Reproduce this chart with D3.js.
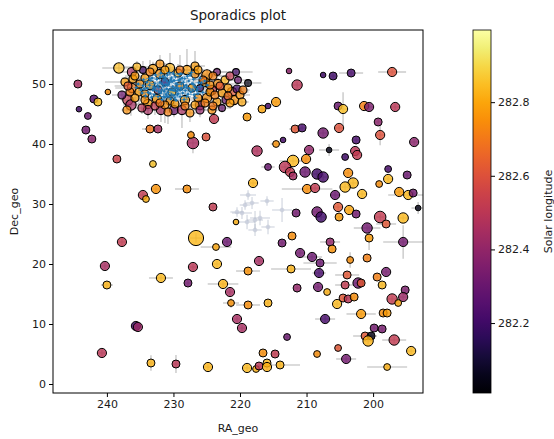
<!DOCTYPE html>
<html>
<head>
<meta charset="utf-8">
<script src="https://cdn.jsdelivr.net/npm/d3@7"></script>
<style>
body { margin: 0; background: #fff; }
text { font-family: "DejaVu Sans", sans-serif; fill: #1a1a1a; }
</style>
</head>
<body>
<svg id="chart" width="554" height="439"></svg>
<script>
// tick labels
const xTicks = [240, 230, 220, 210, 200];
const yTicks = [0, 10, 20, 30, 40, 50];
const solTicks = [282.2, 282.4, 282.6, 282.8];

// sporadic meteors: RA_geo, Dec_geo, solar longitude, brightness, sigma RA, sigma Dec
const sporadics = [
  [244.36,50.0,282.45,2,0.6,0.5],[239.85,48.67,282.75,1,0.5,0.4],[241.96,47.5,282.25,2,0.5,0.4],
  [241.35,47.0,282.85,2,0.6,0.5],[244.2,45.8,282.2,1,0.4,0.4],[242.86,44.67,282.3,1.5,0.5,0.4],
  [243.16,42.33,282.32,2,0.5,0.5],[242.26,40.83,282.38,2,0.6,0.4],[238.5,37.5,282.55,2,0.5,0.5],
  [233.08,36.67,282.86,1.5,0.5,0.4],[233.53,42.5,282.7,2,1.2,0.5],[232.33,42.5,282.45,2,0.6,0.5],
  [227.07,40.17,282.45,3.5,0.8,1.7],[227.37,41.5,282.75,1.5,0.5,0.8],[225.1,41.17,282.6,2,0.6,0.5],
  [223.9,44.17,282.52,2.5,0.6,0.6],[218.94,44.5,282.78,2,0.5,0.5],[217.44,38.83,282.47,3,0.6,0.5],
  [216.69,45.83,282.8,2,0.6,0.5],[215.79,46.33,282.22,1,0.5,0.4],[214.58,47.0,282.78,2.5,0.6,0.5],
  [212.63,52.17,282.38,1,0.4,0.4],[207.51,51.5,282.2,1,0.4,0.4],[206.01,51.33,282.2,2,0.5,0.4],
  [203.3,51.83,282.22,2,1.8,0.4],[197.14,52.0,282.6,2.5,2.1,0.4],[211.42,49.83,282.5,3,0.6,0.5],
  [205.26,46.33,282.3,2,0.6,0.5],[204.51,45.83,282.85,2.5,0.6,2.8],[201.35,46.33,282.72,2.5,0.6,0.5],
  [200.6,46.17,282.35,2.5,0.6,0.5],[196.68,46.17,282.5,2.5,0.6,0.5],[199.24,43.67,282.38,2,0.5,0.5],
  [211.72,42.5,282.62,2,0.9,0.5],[210.67,42.67,282.22,2,0.5,0.4],[207.51,41.83,282.32,3,0.6,0.5],
  [205.11,42.67,282.6,2.5,0.6,0.5],[198.94,41.5,282.6,2.5,0.5,1.7],[193.83,40.33,282.38,2.5,0.6,0.5],
  [213.53,40.67,282.22,1,0.4,0.4],[214.58,40.0,282.76,1.5,0.8,0.4],[202.55,40.67,282.22,2,0.5,0.5],
  [209.62,39.0,282.4,2.5,0.6,0.5],[206.61,39.0,282.05,1,1.5,1.0],[204.2,37.83,282.2,1.5,0.5,0.4],
  [202.7,38.83,282.5,2.5,0.6,0.5],[202.4,38.17,282.52,2.5,0.5,0.5],[212.03,37.17,282.84,3.5,2.0,0.6],
  [210.07,37.5,282.75,2.5,0.6,0.5],[215.79,36.17,282.3,1.5,1.0,0.5],[213.23,36.17,282.5,3.5,0.6,0.5],
  [212.48,35.33,282.52,2.5,0.6,0.5],[212.03,34.67,282.45,2,0.5,0.5],[210.22,35.33,282.3,3,0.6,0.8],
  [208.42,35.0,282.2,3,0.6,0.5],[207.51,34.5,282.22,3,0.6,0.5],[203.75,35.17,282.75,2.5,0.6,0.5],
  [197.74,35.83,282.22,1.5,0.5,0.4],[194.88,34.83,282.3,2,0.6,0.5],[197.74,34.17,282.84,2.5,0.6,0.5],
  [203.0,33.5,282.84,3,0.8,0.6],[204.2,32.83,282.84,3,0.6,0.5],[199.09,33.33,282.75,1.5,0.5,0.4],
  [218.04,33.5,282.83,2.5,0.6,0.5],[209.92,32.5,282.75,2.5,3.8,0.5],[208.72,32.67,282.52,2.5,0.6,0.5],
  [201.65,31.67,282.84,2.5,0.6,0.5],[196.08,32.0,282.78,2.5,0.6,0.5],[194.73,31.5,282.84,2.5,3.0,0.5],
  [193.98,31.83,282.32,2,0.5,0.5],[205.71,31.5,282.3,2.5,0.6,0.5],[193.23,29.33,282.05,1,1.0,1.0],
  [211.57,28.5,282.32,2,0.5,0.5],[208.42,28.67,282.32,3,0.6,0.5],[207.81,27.83,282.2,3,0.6,0.5],
  [205.26,29.5,282.62,2.5,0.6,0.5],[205.11,27.83,282.78,2,0.5,0.5],[203.6,29.0,282.8,2.5,0.6,0.5],
  [202.55,28.33,282.32,2,0.5,0.5],[198.94,27.83,282.52,3.5,0.6,0.5],[198.04,26.67,282.62,2,1.5,0.4],
  [195.48,27.67,282.84,3,0.6,0.5],[212.18,24.67,282.75,2,0.5,0.5],[200.9,26.0,282.32,3,2.0,0.5],
  [200.6,24.33,282.78,2,0.5,2.0],[206.46,23.67,282.4,2,1.5,0.5],[206.16,22.5,282.76,2,0.5,0.5],
  [195.48,23.67,282.32,2.5,3.0,2.8],[213.68,23.5,282.32,2,0.5,0.5],[210.97,21.83,282.32,2.5,0.5,0.6],
  [209.17,21.17,282.3,2.5,1.5,0.5],[207.97,20.17,282.3,2,2.5,0.8],[203.45,20.67,282.75,1.5,0.5,1.3],
  [200.9,21.0,282.72,2,0.5,0.5],[212.33,19.17,282.83,2,3.0,0.5],[208.12,18.5,282.22,2.5,1.0,0.8],
  [203.9,18.17,282.62,2,1.8,0.5],[199.39,17.83,282.72,2,0.5,0.5],[198.04,18.67,282.33,2.5,0.5,0.5],
  [202.25,16.83,282.3,3,0.6,0.5],[201.8,16.83,282.62,2,0.6,0.5],[198.64,16.5,282.84,2,0.5,0.5],
  [211.42,16.0,282.4,2,0.5,0.8],[208.27,16.17,282.32,2.5,0.5,0.5],[206.91,15.33,282.82,1.5,0.5,0.5],
  [204.2,16.5,282.52,2,1.5,0.5],[195.18,15.67,282.35,2,0.5,0.5],[195.48,14.5,282.42,2.5,0.5,0.5],
  [197.14,14.17,282.52,3,0.6,0.5],[196.23,13.5,282.8,1.5,0.5,0.5],[204.51,14.33,282.62,2,0.5,0.5],
  [203.75,14.17,282.5,2,0.5,0.5],[202.85,14.5,282.75,2,0.5,0.5],[205.41,13.33,282.84,2.5,0.5,0.5],
  [201.8,11.67,282.78,2.5,2.2,0.5],[198.49,11.83,282.75,2,0.5,0.5],[197.89,11.83,282.78,2,0.5,0.5],
  [207.21,10.83,282.22,2.5,1.5,0.5],[212.93,7.83,282.3,1.5,0.5,0.5],[199.84,9.33,282.32,2,0.5,0.5],
  [198.64,9.17,282.33,2,0.5,0.5],[201.2,8.0,282.62,2,1.8,0.5],[200.3,8.0,282.05,2,0.5,0.5],
  [200.75,7.17,282.83,3,0.6,0.5],[196.83,7.33,282.52,3,1.8,0.5],[205.26,6.0,282.62,1.5,0.5,0.5],
  [208.42,5.0,282.75,1.5,0.5,0.5],[194.28,5.5,282.84,2.5,0.5,0.5],[204.05,4.17,282.32,2.5,1.5,0.5],
  [213.98,3.17,282.83,2,3.0,0.5],[197.89,2.83,282.82,1.5,3.0,0.4],[240.75,5.17,282.5,2.5,0.5,0.5],
  [233.38,3.5,282.83,2,0.5,1.3],[229.62,3.33,282.5,2,0.5,1.5],[224.81,2.83,282.83,2.5,0.5,0.5],
  [218.94,2.67,282.84,2.5,0.5,0.5],[217.59,2.5,282.82,1.5,0.5,0.5],[217.14,3.0,282.5,2,0.5,0.5],
  [215.94,3.5,282.84,2,0.5,0.5],[215.94,2.83,282.82,2.5,0.5,0.5],[216.54,5.17,282.75,2,0.5,0.5],
  [214.73,5.0,282.52,2,0.5,0.5],[227.82,16.83,282.32,2,0.5,0.5],[222.55,16.67,282.83,2.5,2.3,0.5],
  [221.5,15.33,282.45,2.5,0.5,0.5],[221.35,13.5,282.76,1.5,1.2,0.8],[218.79,13.17,282.75,2,1.8,0.5],
  [215.79,13.5,282.83,2,0.5,0.5],[220.45,10.83,282.45,2.5,0.5,0.5],[219.7,9.33,282.45,2.5,0.5,0.5],
  [234.59,31.5,282.52,2.5,0.5,0.5],[234.13,30.83,282.82,1.5,0.5,0.5],[232.63,32.5,282.76,2.5,0.5,0.5],
  [227.97,32.5,282.75,2,1.8,0.5],[237.74,23.67,282.52,2.5,0.5,0.8],[240.3,19.67,282.45,2.5,0.5,0.5],
  [231.88,17.67,282.84,2.5,1.8,0.5],[240.0,16.5,282.83,2,0.9,0.5],[235.64,9.67,282.2,2.5,0.5,0.5],
  [235.34,9.5,282.42,2.5,0.5,0.5],[224.06,29.5,282.52,2,0.5,0.5],[220.6,27.0,282.82,1,0.5,0.5],
  [226.61,24.33,282.84,5,1.0,0.8],[221.95,23.67,282.3,2.5,0.5,0.5],[223.61,22.83,282.8,1.5,2.3,0.5],
  [217.14,20.5,282.45,2.5,0.5,0.5],[223.46,20.0,282.84,2.5,0.5,0.5],[227.07,19.5,282.5,2.5,0.5,0.5],
  [218.79,18.83,282.76,2,1.8,0.5]
];

// sporadics crowding round the shower radiant
const radiantArea = [
  [238.2,52.67,282.84,3,2.5,0.8],[236.24,52.0,282.45,2.5,1.5,0.6],[234.59,52.33,282.2,1.5,1.0,1.5],
  [233.08,52.5,282.78,2.5,1.8,1.2],[230.52,52.67,282.83,2.5,1.5,2.5],[227.97,52.33,282.78,2.5,1.2,3.5],
  [224.96,51.5,282.75,3,2.0,1.0],[223.46,52.0,282.32,1.5,1.5,0.8],[220.6,52.0,282.2,1.5,2.5,0.6],
  [218.79,50.17,282.05,1.5,2.0,0.5],[223.31,50.0,282.75,2.5,2.5,1.0],[237.29,50.33,282.78,2,3.0,0.8],
  [236.09,50.83,282.78,2,1.5,0.8],[236.24,49.33,282.7,2.5,2.5,1.5],[235.19,48.67,282.78,2,1.5,2.0],
  [236.84,47.33,282.52,3,1.0,1.0],[236.39,46.5,282.45,3,1.2,1.8],[236.99,45.67,282.75,2,0.8,0.8],
  [233.83,46.67,282.78,2.5,2.0,2.5],[233.83,45.67,282.45,2.5,1.0,1.0],[231.88,45.67,282.45,2.5,1.5,2.0],
  [229.92,45.67,282.3,2.5,1.0,1.2],[228.72,45.67,282.45,2.5,1.2,3.0],[227.52,45.17,282.75,2,1.0,1.5],
  [226.01,46.5,282.45,2.5,1.5,1.0],[224.96,47.67,282.75,2.5,1.2,0.8],[224.21,49.0,282.52,2.5,3.0,0.8],
  [223.46,47.0,282.78,2,1.0,1.0],[222.1,47.33,282.3,2,1.5,0.6],[221.2,48.67,282.62,2.5,2.5,1.0],
  [220.9,47.33,282.75,2.5,1.0,0.8],[220.45,49.17,282.2,2,1.5,0.6],[234.28,51.0,282.78,2,3.5,1.0],
  [232.03,51.67,282.75,2.5,2.0,2.0],[229.32,51.83,282.83,2,1.5,1.5],[226.76,51.67,282.75,2,2.5,1.0],
  [225.26,50.33,282.78,2.5,2.0,1.2],[224.51,48.67,282.78,2,1.5,1.0],[226.31,47.67,282.75,2,2.0,1.5],
  [228.27,47.33,282.78,2.5,1.5,2.0],[230.52,47.17,282.75,2,2.5,1.0],[232.48,47.5,282.78,2.5,2.0,1.5],
  [234.28,48.33,282.75,2,3.0,1.0],[233.53,49.83,282.78,2.5,2.5,1.5],[231.28,50.33,282.2,2,1.5,1.0],
  [229.02,49.67,282.75,2,2.0,1.0],[227.22,49.33,282.78,2,1.5,0.8],[230.22,48.67,282.83,2,1.0,1.0],
  [232.33,49.0,282.52,2,1.5,1.0],[226.01,49.33,282.2,1.5,1.0,0.8],[235.04,50.0,282.75,2,2.0,1.0],
  [222.25,50.67,282.83,2,1.5,0.8],[221.8,49.33,282.78,2,2.5,1.0],[237.74,48.17,282.3,2,1.5,0.8],
  [231.28,46.5,282.75,2,1.5,3.0],[232.78,46.33,282.52,2,1.0,1.5],[224.21,45.67,282.75,2,1.0,2.0],
  [222.7,46.0,282.3,1.5,1.0,0.8],[235.49,52.83,282.83,2,2.0,1.0],[226.76,53.0,282.78,2,1.5,2.5],
  [232.03,53.33,282.75,2,1.0,1.5],[221.5,51.33,282.52,2,1.5,0.8],
  [225.56,50.67,282.7,2,1.5,0.8],[224.51,49.83,282.75,2,1.0,1.0],[223.76,48.17,282.72,2,2.0,0.6],
  [222.7,48.5,282.78,2,1.5,1.0],[221.8,48.0,282.7,2,1.0,0.8],[223.0,49.67,282.62,2,2.0,0.8],
  [220.0,48.17,282.75,2,1.5,0.6],[219.7,47.0,282.8,2,1.0,0.8],[225.26,46.83,282.72,2,1.0,1.2],
  [226.76,46.5,282.78,2,1.5,0.8],[228.27,46.33,282.72,2,1.0,1.5],[229.77,46.67,282.78,2,2.0,0.8],
  [232.03,46.83,282.7,2,1.5,1.0],[234.28,47.33,282.75,2,2.0,0.8],[235.79,47.67,282.78,2,1.0,1.2],
  [236.54,48.67,282.72,2,1.5,0.8],[236.84,49.67,282.62,2,2.0,1.0],[235.79,51.33,282.78,2,1.5,0.8],
  [233.53,52.0,282.72,2,1.0,2.0],[231.28,52.33,282.78,2,2.0,1.0],[229.02,52.33,282.7,2,1.5,2.5],
  [226.31,52.33,282.78,2,1.0,1.0],[224.06,51.33,282.72,2,2.0,0.8],[220.3,50.67,282.3,1.5,1.5,0.6],
  [219.55,49.0,282.72,2,1.0,0.8],[221.5,46.83,282.78,2,1.5,1.0],[224.06,46.33,282.7,2,1.0,1.5],
  [234.74,46.0,282.5,2,1.0,1.0],[230.82,45.33,282.72,2,1.5,2.0],[226.01,45.67,282.4,2,1.0,1.2]
];

// shower members (blue): RA_geo, Dec_geo, sigma RA, sigma Dec
const shower = [
  [230.1,49.6,0.6,0.3],[229.4,49.9,0.5,0.4],[231.0,49.2,0.8,0.3],[228.8,49.3,0.4,0.3],[231.7,50.0,0.7,0.4],
  [230.6,50.3,0.5,0.5],[229.9,48.9,0.9,0.3],[232.2,49.4,0.6,0.4],[228.1,49.8,0.5,0.3],[230.8,48.6,0.4,0.4],
  [229.2,50.6,0.7,0.3],[231.4,50.7,0.5,0.5],[227.6,49.2,0.6,0.3],[232.8,50.1,0.8,0.4],[230.3,51.0,0.4,0.3],
  [228.6,48.5,0.6,0.4],[233.1,49.0,0.5,0.3],[229.7,51.2,0.7,0.4],[227.2,50.1,0.5,0.3],[231.9,48.5,0.6,0.5],
  [226.8,49.5,0.4,0.3],[233.6,49.8,0.7,0.4],[230.0,48.1,0.5,0.3],[228.3,50.9,0.6,0.4],[232.5,50.8,0.5,0.3],
  [229.0,47.9,0.8,0.4],[231.3,47.8,0.5,0.3],[226.5,48.9,0.6,0.4],[234.0,50.3,0.5,0.3],[227.9,51.3,0.7,0.4],
  [232.9,48.2,0.4,0.3],[230.9,51.5,0.6,0.4],[229.6,50.1,0.5,0.3],[230.5,49.1,0.9,0.5],[231.2,49.9,0.4,0.3],
  [228.9,49.0,0.6,0.4],[229.3,48.4,0.5,0.3],[231.8,49.0,0.7,0.4],[230.4,50.7,0.5,0.3],[228.5,50.3,0.6,0.4],
  [232.4,49.7,0.5,0.3],[227.4,48.7,0.6,0.4],[233.4,50.6,0.5,0.3],[229.8,47.7,0.7,0.4],[226.2,50.2,0.5,0.3],
  [234.4,49.2,0.6,0.4],[230.7,47.9,0.5,0.3],[228.0,47.9,0.6,0.4],[232.0,51.1,0.5,0.3],[227.0,50.8,0.7,0.4],
  [229.1,51.6,0.5,0.3],[231.6,51.3,0.6,0.4],[233.8,48.6,0.5,0.3],[226.9,48.2,0.6,0.4],[230.2,50.4,0.5,0.3],
  [229.5,49.4,0.8,0.4],[231.1,48.3,0.5,0.3],[228.4,49.5,0.6,0.4],[232.6,48.9,0.5,0.3],[227.8,48.3,0.6,0.4],
  [233.2,51.0,0.5,0.3],[230.0,51.7,0.6,0.4],[228.7,51.0,0.5,0.3],[231.5,47.9,0.7,0.4],[234.6,49.7,0.5,0.3],
  [225.9,49.6,0.6,0.4],[229.4,48.2,0.5,0.3],[232.3,47.9,0.6,0.4],[227.5,51.5,0.5,0.3],[231.0,50.5,0.6,0.4],
  [224.9,49.8,0.4,0.3],[225.3,50.5,0.5,0.3],[225.6,48.6,0.6,0.4],[226.0,51.0,0.4,0.3],[226.4,49.2,0.5,0.4],
  [226.7,47.7,0.4,0.3],[227.1,49.0,0.6,0.3],[227.3,51.9,0.5,0.4],[227.7,50.5,0.4,0.3],[228.2,48.9,0.5,0.3],
  [228.4,47.4,0.6,0.4],[228.8,50.0,0.4,0.3],[229.0,50.8,0.5,0.3],[229.3,49.2,0.6,0.4],[229.6,47.3,0.4,0.3],
  [229.9,50.6,0.5,0.3],[230.2,49.0,0.4,0.4],[230.4,47.5,0.6,0.3],[230.6,51.9,0.5,0.4],[230.9,49.8,0.4,0.3],
  [231.2,51.0,0.5,0.3],[231.4,48.8,0.6,0.4],[231.7,47.4,0.4,0.3],[232.0,50.3,0.5,0.3],[232.2,48.7,0.4,0.4],
  [232.7,51.5,0.6,0.3],[233.0,49.5,0.5,0.3],[233.3,47.8,0.4,0.4],[233.6,50.9,0.5,0.3],[233.9,49.3,0.6,0.3],
  [234.2,48.0,0.4,0.4],[234.5,50.7,0.5,0.3],[234.9,49.0,0.4,0.3],[235.3,50.0,0.5,0.3],[235.6,49.4,0.4,0.3],
  [228.0,49.4,0.5,0.3],[229.8,49.3,0.4,0.3],[230.7,50.0,0.5,0.4],[231.5,49.6,0.4,0.3],[232.8,49.3,0.5,0.3],
  [227.0,49.9,0.4,0.4],[226.3,48.4,0.5,0.3],[233.5,48.4,0.4,0.3],[228.9,51.7,0.5,0.3],[231.9,51.8,0.4,0.4],
  [225.8,50.2,0.5,0.3],[234.7,48.5,0.4,0.3],[229.5,48.8,0.5,0.3],[230.3,48.3,0.4,0.3],[231.0,48.0,0.5,0.4]
];

// faint group (grey): RA_geo, Dec_geo, sigma RA, sigma Dec
const faintGroup = [
  [218.79,31.5,1.2,0.8],[218.19,30.17,1.0,1.0],[215.94,30.5,1.0,0.8],[213.68,29.0,1.5,2.0],
  [219.7,28.5,1.5,1.0],[218.94,27.0,1.2,1.2],[217.74,27.33,1.2,1.5],[216.99,27.67,1.5,1.2],
  [217.74,25.67,1.0,1.0],[215.79,26.17,1.0,1.2],[220.45,28.67,1.0,0.8],[219.24,29.83,0.8,0.8]
];

const plot = {left: 53, right: 423, top: 30, bottom: 393};
const cbar = {x: 473, w: 18};

const svg = d3.select('#chart');

const x = d3.scaleLinear().domain([248.1, 192.5]).range([plot.left, plot.right]); // RA runs backwards
const y = d3.scaleLinear().domain([-1.5, 59]).range([plot.bottom, plot.top]);
const solScale = d3.scaleLinear().domain([282.01, 282.996]).range([plot.bottom, plot.top]);
const color = d3.scaleSequential(d3.interpolateInferno).domain([282.01, 282.996]);
const rScale = d3.scaleLinear().domain([1, 5]).range([2.8, 7.6]);

svg.append('defs').append('clipPath').attr('id', 'clip')
  .append('rect')
  .attr('x', plot.left).attr('y', plot.top)
  .attr('width', plot.right - plot.left).attr('height', plot.bottom - plot.top);

const area = svg.append('g').attr('clip-path', 'url(#clip)');

// error bars first, like errorbar() under scatter()
function errBars(g, rows, stroke, op, sw) {
  rows.forEach(d => {
    const ra = d[0], dec = d[1];
    const eRa = d.length > 4 ? d[4] : d[2];
    const eDec = d.length > 4 ? d[5] : d[3];
    g.append('line')
      .attr('x1', x(ra - eRa)).attr('x2', x(ra + eRa))
      .attr('y1', y(dec)).attr('y2', y(dec))
      .attr('stroke', stroke).attr('stroke-opacity', op).attr('stroke-width', sw);
    g.append('line')
      .attr('x1', x(ra)).attr('x2', x(ra))
      .attr('y1', y(dec - eDec)).attr('y2', y(dec + eDec))
      .attr('stroke', stroke).attr('stroke-opacity', op).attr('stroke-width', sw);
  });
}

const errG = area.append('g');
errBars(errG, sporadics.concat(radiantArea), '#a8a8a8', 0.55, 1.6);
errBars(errG, faintGroup, '#b4bccb', 0.5, 1.4);

area.append('g').selectAll('circle')
  .data(faintGroup)
  .join('circle')
  .attr('cx', d => x(d[0]))
  .attr('cy', d => y(d[1]))
  .attr('r', 2)
  .attr('fill', '#c3cadb')
  .attr('fill-opacity', 0.5)
  .attr('stroke', '#a3abbd')
  .attr('stroke-opacity', 0.4)
  .attr('stroke-width', 0.6);

area.append('g').selectAll('circle')
  .data(sporadics)
  .join('circle')
  .attr('cx', d => x(d[0]))
  .attr('cy', d => y(d[1]))
  .attr('r', d => rScale(d[3]))
  .attr('fill', d => color(d[2]))
  .attr('fill-opacity', 0.82)
  .attr('stroke', '#000')
  .attr('stroke-width', 1);

// crowded ring: thinner fill lets the stacked black edges show through
area.append('g').selectAll('circle')
  .data(radiantArea)
  .join('circle')
  .attr('cx', d => x(d[0]))
  .attr('cy', d => y(d[1]))
  .attr('r', d => rScale(d[3]))
  .attr('fill', d => color(d[2]))
  .attr('fill-opacity', 0.7)
  .attr('stroke', '#000')
  .attr('stroke-width', 1.1);

// blue shower on top
const showerG = area.append('g');
errBars(showerG, shower, '#1f77b4', 0.75, 0.8);
showerG.selectAll('circle')
  .data(shower)
  .join('circle')
  .attr('cx', d => x(d[0]))
  .attr('cy', d => y(d[1]))
  .attr('r', 1.2)
  .attr('fill', '#1f77b4');

// frame
svg.append('rect')
  .attr('x', plot.left).attr('y', plot.top)
  .attr('width', plot.right - plot.left).attr('height', plot.bottom - plot.top)
  .attr('fill', 'none').attr('stroke', '#000').attr('stroke-width', 1);

const xAxis = svg.append('g')
  .attr('transform', `translate(0,${plot.bottom})`)
  .call(d3.axisBottom(x).tickValues(xTicks).tickSize(4).tickPadding(3));
const yAxis = svg.append('g')
  .attr('transform', `translate(${plot.left},0)`)
  .call(d3.axisLeft(y).tickValues(yTicks).tickSize(4).tickPadding(3));
[xAxis, yAxis].forEach(a => {
  a.select('.domain').remove();
  a.selectAll('text').style('font-size', '11px').attr('fill', '#1a1a1a');
  a.selectAll('line').attr('stroke', '#000');
});

// colorbar
const grad = svg.select('defs').append('linearGradient')
  .attr('id', 'cbGrad').attr('x1', 0).attr('x2', 0).attr('y1', 1).attr('y2', 0);
d3.range(0, 1.0001, 0.05).forEach(t => {
  grad.append('stop').attr('offset', t).attr('stop-color', d3.interpolateInferno(t));
});
svg.append('rect')
  .attr('x', cbar.x).attr('y', plot.top)
  .attr('width', cbar.w).attr('height', plot.bottom - plot.top)
  .attr('fill', 'url(#cbGrad)')
  .attr('stroke', '#000').attr('stroke-width', 0.8);

const cAxis = svg.append('g')
  .attr('transform', `translate(${cbar.x + cbar.w},0)`)
  .call(d3.axisRight(solScale).tickValues(solTicks).tickFormat(d3.format('.1f')).tickSize(4).tickPadding(3));
cAxis.select('.domain').remove();
cAxis.selectAll('text').style('font-size', '11px').attr('fill', '#1a1a1a');

// labels
svg.append('text')
  .attr('x', (plot.left + plot.right) / 2).attr('y', 20)
  .attr('text-anchor', 'middle').style('font-size', '13.5px')
  .text('Sporadics plot');
svg.append('text')
  .attr('x', (plot.left + plot.right) / 2).attr('y', 432)
  .attr('text-anchor', 'middle').style('font-size', '11px')
  .text('RA_geo');
svg.append('text')
  .attr('transform', `translate(18,${(plot.top + plot.bottom) / 2}) rotate(-90)`)
  .attr('text-anchor', 'middle').style('font-size', '11px')
  .text('Dec_geo');
svg.append('text')
  .attr('transform', `translate(552,${(plot.top + plot.bottom) / 2}) rotate(-90)`)
  .attr('text-anchor', 'middle').style('font-size', '11px')
  .text('Solar longitude');
</script>
</body>
</html>
